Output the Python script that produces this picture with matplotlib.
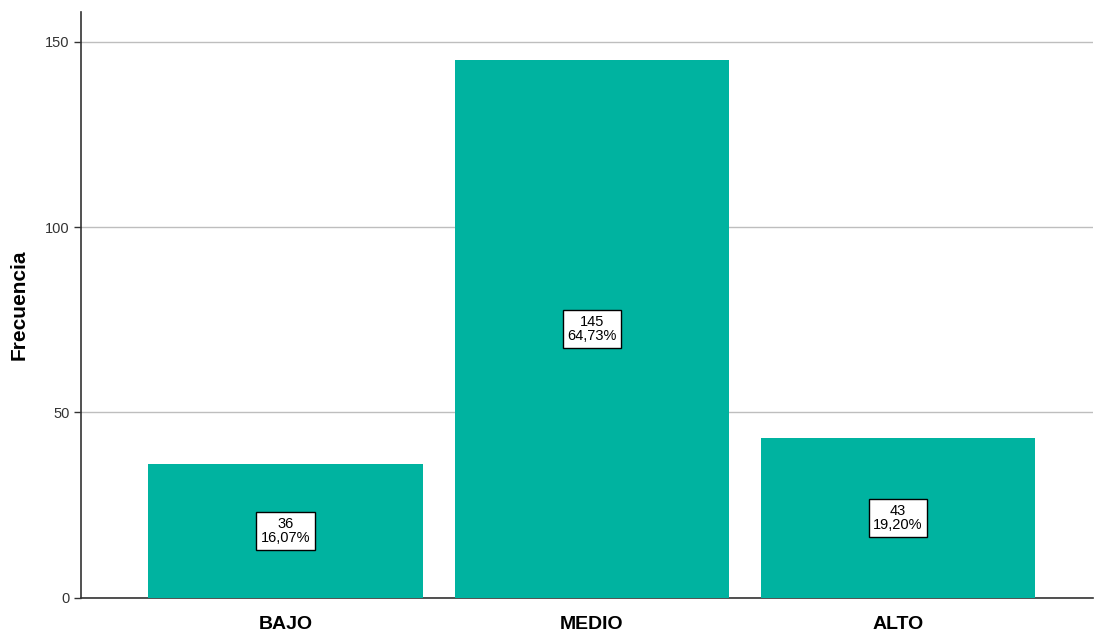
import matplotlib
matplotlib.use("Agg")
import matplotlib.pyplot as plt

categories = ["BAJO", "MEDIO", "ALTO"]
counts = [36, 145, 43]
percents = ["16,07%", "64,73%", "19,20%"]
yticks = [0, 50, 100, 150]

plt.rcParams['font.family'] = ['Liberation Sans', 'DejaVu Sans']

fig = plt.figure(figsize=(10.94, 6.34), dpi=100)
ax = fig.add_axes([0.074, 0.057, 0.925, 0.924])

x = list(range(len(categories)))
ax.bar(x, counts, width=0.896, color="#00B3A0", zorder=3)
ax.set_xlim(-0.668, 2.637)
ax.set_ylim(0, 158)
ax.set_yticks(yticks)
ax.yaxis.grid(True, color="#BEBEBE", linewidth=1, zorder=0)
ax.set_axisbelow(True)
ax.set_xticks(x)
ax.set_xticklabels(categories, fontsize=14, fontweight="heavy")
ax.tick_params(axis="x", length=0, pad=13)
ax.tick_params(axis="y", length=5, width=1, color="#333333", labelsize=10.5, labelcolor="#333333", pad=3)
ax.set_ylabel("Frecuencia", fontsize=15, fontweight="bold", labelpad=12)
for s in ["top", "right"]:
    ax.spines[s].set_visible(False)
for s in ["left", "bottom"]:
    ax.spines[s].set_color("#333333")
    ax.spines[s].set_linewidth(1.2)

for xi, c, p in zip(x, counts, percents):
    ax.text(xi, c / 2, f"{c}\n{p}", ha="center", va="center", fontsize=10.5,
            linespacing=1.05, zorder=5,
            bbox=dict(boxstyle="square,pad=0.3", facecolor="white", edgecolor="black", linewidth=1))

fig.savefig("out.png", dpi=100)
